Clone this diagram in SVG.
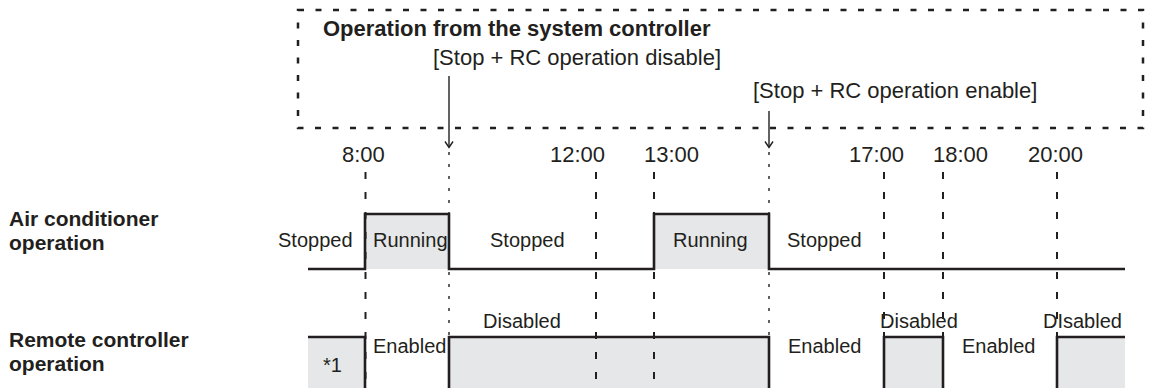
<svg xmlns="http://www.w3.org/2000/svg" width="1155" height="388" viewBox="0 0 1155 388">
<style>
text{font-family:"Liberation Sans",Arial,sans-serif;fill:#231f20}
.b{font-weight:bold;font-size:22px}
.lb{font-weight:bold;font-size:21px}
.r{font-size:22px}
.s{font-size:20px}
.wave{fill:none;stroke:#231f20;stroke-width:2.6}
.fill{fill:#e6e7e8}
.tl{stroke:#231f20;stroke-width:2;stroke-dasharray:7 13}
.dot{stroke:#231f20;stroke-width:1.4;stroke-dasharray:3 9}
.arr{fill:none;stroke:#231f20;stroke-width:1.4}
</style>
<rect width="1155" height="388" fill="#fff"/>
<g id="system-controller">
<rect x="298" y="10" width="845" height="118" fill="none" stroke="#231f20" stroke-width="2.5" stroke-dasharray="6 11.5"/>
<text class="b" x="323" y="36">Operation from the system controller</text>
<text class="r" x="433" y="65">[Stop + RC operation disable]</text>
<text class="r" x="753" y="98">[Stop + RC operation enable]</text>
</g>
<g id="fills">
<rect class="fill" x="365" y="214" width="84" height="55"/>
<rect class="fill" x="654" y="214" width="115" height="55"/>
<rect class="fill" x="308" y="337" width="57" height="55"/>
<rect class="fill" x="449" y="337" width="320" height="55"/>
<rect class="fill" x="884" y="337" width="59" height="55"/>
<rect class="fill" x="1057" y="337" width="68" height="55"/>
</g>
<g id="connectors">
<line class="tl" x1="365.5" y1="172" x2="365.5" y2="392"/>
<line class="tl" x1="596" y1="172" x2="596" y2="392"/>
<line class="tl" x1="654" y1="172" x2="654" y2="392"/>
<line class="tl" x1="884" y1="172" x2="884" y2="392"/>
<line class="tl" x1="943" y1="172" x2="943" y2="392"/>
<line class="tl" x1="1057" y1="172" x2="1057" y2="392"/>
<line class="dot" x1="449" y1="152" x2="449" y2="392"/>
<line class="dot" x1="769" y1="152" x2="769" y2="392"/>
<line class="arr" x1="449" y1="76" x2="449" y2="147"/>
<polyline class="arr" points="445,141.5 449,147.5 453,141.5"/>
<line class="arr" x1="769" y1="111" x2="769" y2="147"/>
<polyline class="arr" points="765,141.5 769,147.5 773,141.5"/>
</g>
<g id="time-labels">
<text class="r" x="342" y="162">8:00</text>
<text class="r" x="550" y="162">12:00</text>
<text class="r" x="644" y="162">13:00</text>
<text class="r" x="849" y="162">17:00</text>
<text class="r" x="933" y="162">18:00</text>
<text class="r" x="1028" y="162">20:00</text>
</g>
<g id="air-conditioner">
<text class="lb" x="9" y="226">Air conditioner</text>
<text class="lb" x="9" y="250">operation</text>
<path class="wave" d="M308,269 H365 V214 H449 V269 H654 V214 H769 V269 H1125"/>
<text class="s" x="278" y="247">Stopped</text>
<text class="s" x="373" y="247">Running</text>
<text class="s" x="490" y="247">Stopped</text>
<text class="s" x="673" y="247">Running</text>
<text class="s" x="787" y="247">Stopped</text>
</g>
<g id="remote-controller">
<text class="lb" x="9" y="347">Remote controller</text>
<text class="lb" x="9" y="371">operation</text>
<path class="wave" d="M308,337 H365 V392 M449,392 V337 H769 V392 M884,392 V337 H943 V392 M1057,392 V337 H1125"/>
<text class="s" x="323" y="372">*1</text>
<text class="s" x="373" y="353">Enabled</text>
<text class="s" x="483" y="328">Disabled</text>
<text class="s" x="788" y="353">Enabled</text>
<text class="s" x="880" y="328">Disabled</text>
<text class="s" x="962" y="353">Enabled</text>
<text class="s" x="1043" y="328">DIsabled</text>
</g>
</svg>
